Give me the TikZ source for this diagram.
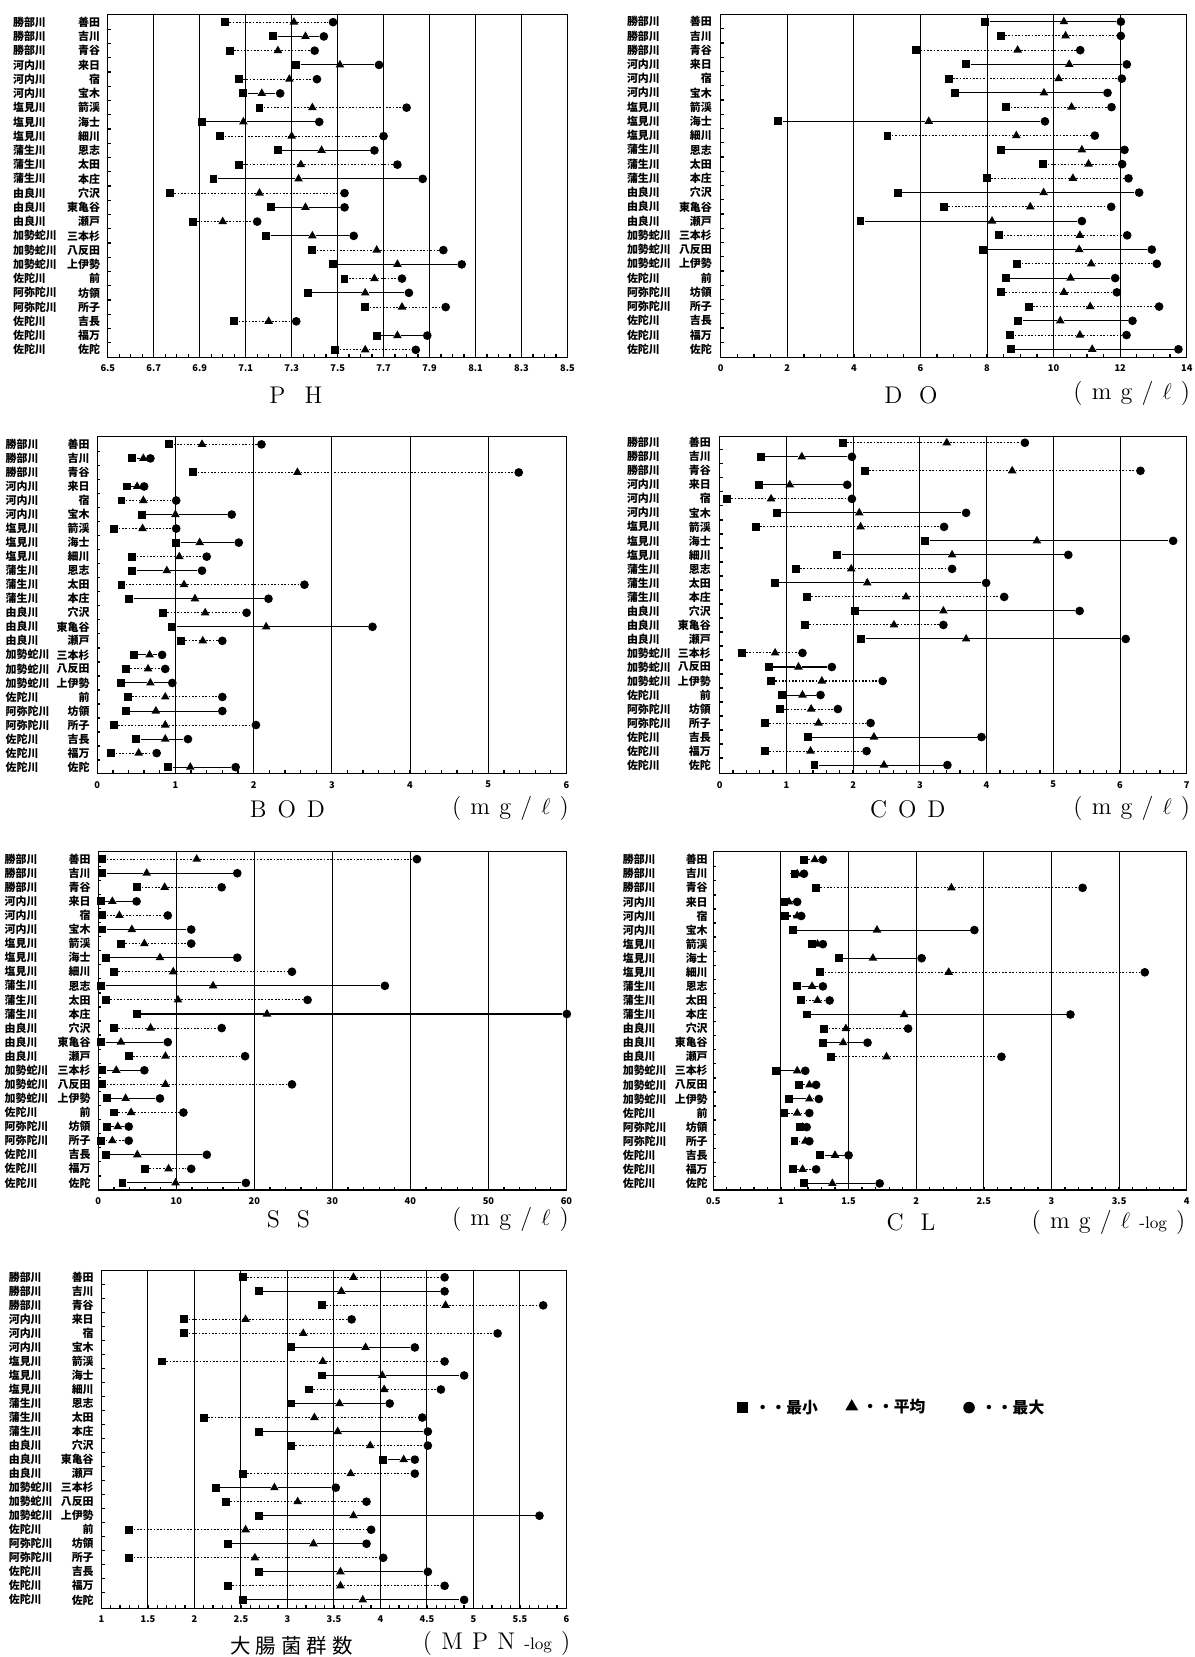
\documentclass[tikz,border=0pt]{standalone}
\usepackage{fontspec}
\newfontfamily\jpfont{Noto Sans CJK JP}
\usetikzlibrary{shapes.geometric,positioning}

\tikzset{
  minmark/.style={rectangle, fill=black, inner sep=0pt, minimum size=0.15cm},
  avgmark/.style={regular polygon, regular polygon sides=3, fill=black, inner sep=0pt, minimum size=0.19cm},
  maxmark/.style={circle, fill=black, inner sep=0pt, minimum size=0.165cm},
  rowline0/.style={line width=0.55pt},
  rowline1/.style={line width=0.55pt, dash pattern=on 0.9pt off 0.9pt},
  gridline/.style={line width=0.5pt},
  frameline/.style={line width=0.7pt},
  riverlabel/.style={anchor=west, inner sep=0pt, font=\jpfont\bfseries\fontsize{5.9}{6}\selectfont},
  stnlabel/.style={anchor=east, inner sep=0pt, font=\jpfont\bfseries\fontsize{5.9}{6}\selectfont},
  ticklabel/.style={inner sep=0pt, font=\jpfont\bfseries\fontsize{5}{6}\selectfont},
  titlelabel/.style={inner sep=0pt, font=\fontsize{13}{15}\selectfont},
  jptitle/.style={inner sep=0pt, font=\jpfont\fontsize{11}{13}\selectfont},
  legtext/.style={inner sep=0pt, font=\jpfont\bfseries\fontsize{8.5}{10}\selectfont},
  legmin/.style={minmark, minimum size=0.21cm},
  legavg/.style={avgmark, minimum size=0.28cm},
  legmax/.style={maxmark, minimum size=0.22cm},
}

% stations, top to bottom
\newcommand{\stationlist}{勝部川/善田,勝部川/吉川,勝部川/青谷,河内川/来日,河内川/宿,河内川/宝木,塩見川/箭渓,塩見川/海士,塩見川/細川,蒲生川/恩志,蒲生川/太田,蒲生川/本庄,由良川/穴沢,由良川/東亀谷,由良川/瀬戸,加勢蛇川/三本杉,加勢蛇川/八反田,加勢蛇川/上伊勢,佐陀川/前,阿弥陀川/坊領,阿弥陀川/所子,佐陀川/吉長,佐陀川/福万,佐陀川/佐陀}
\newcommand{\gapsp}{\hspace{0.38em}}
\newcommand{\unitmg}{(\gapsp m\gapsp g\gapsp /\gapsp $\ell$\gapsp )}

% row labels: #1 river x, #2 station right edge
\newcommand{\stationlabels}[2]{%
  \foreach \rv/\stn [count=\i] in \stationlist {
    \node[riverlabel] (\pname-rv-\i) at (#1,{\ya+(\i-1)*\dy}) {\rv};
    \node[stnlabel] (\pname-st-\i) at (#2,{\ya+(\i-1)*\dy}) {\stn};
  }}

% frame, grid and ticks: #1 left, #2 right, #3 top, #4 bottom, #5 intervals, #6 minor, #7 tick labels
\newcommand{\panelaxes}[7]{%
  \pgfmathsetmacro{\gridgap}{(#2-#1)/#5}
  \foreach \lab [count=\j from 0] in {#7} {
    \draw[gridline] ({#1+\j*\gridgap},#3) -- ({#1+\j*\gridgap},#4);
    \node[ticklabel] (\pname-tick-\j) at ({#1+\j*\gridgap},{#4+10.5}) {\lab};
  }
  \pgfmathtruncatemacro{\nminor}{#5*#6}
  \foreach \m in {1,...,\nminor} \draw[frameline] ({#1+\m*\gridgap/#6},#4) -- ++(0,-3);
  \foreach \r in {1,...,23} \draw[frameline] (#1,{\ya+(\r-0.5)*\dy}) -- ++(3,0);
  \draw[frameline] (#1,#3) rectangle (#2,#4);
}

% min / mean / max for each row
\newcommand{\panelrows}[1]{%
  \foreach \vlo/\vav/\vhi/\lstyle [count=\i] in {#1} {
    \pgfmathsetmacro{\yy}{\ya+(\i-1)*\dy}
    \node[minmark] (\pname-min-\i) at ({\xa+(\vlo-\vmin)*\kx},\yy) {};
    \node[avgmark] (\pname-avg-\i) at ({\xa+(\vav-\vmin)*\kx},\yy) {};
    \node[maxmark] (\pname-max-\i) at ({\xa+(\vhi-\vmin)*\kx},\yy) {};
    \draw[rowline\lstyle] (\pname-min-\i) -- (\pname-avg-\i) -- (\pname-max-\i);
  }}

\begin{document}
\begin{tikzpicture}[x=0.02cm, y=-0.02cm]
  \useasboundingbox (0,0) rectangle (1130,1568);

  % P H
  \def\pname{ph}\def\xa{102}\def\vmin{6.5}\def\kx{217.5}\def\ya{21}\def\dy{13.48}
  \stationlabels{12}{95}
  \panelaxes{102}{537}{14}{338}{10}{4}{6.5,6.7,6.9,7.1,7.3,7.5,7.7,7.9,8.1,8.3,8.5}
  \panelrows{7.01/7.31/7.48/1, 7.22/7.36/7.44/0, 7.03/7.24/7.40/1, 7.32/7.51/7.68/0,
    7.07/7.29/7.41/1, 7.09/7.17/7.25/0, 7.16/7.39/7.80/1, 6.91/7.09/7.42/0,
    6.99/7.30/7.70/1, 7.24/7.43/7.66/0, 7.07/7.34/7.76/1, 6.96/7.33/7.87/0,
    6.77/7.16/7.53/1, 7.21/7.36/7.53/0, 6.87/7.00/7.15/1, 7.19/7.39/7.57/0,
    7.39/7.67/7.96/1, 7.48/7.76/8.04/0, 7.53/7.66/7.78/1, 7.37/7.62/7.81/0,
    7.62/7.78/7.97/1, 7.05/7.20/7.32/1, 7.67/7.76/7.89/0, 7.49/7.62/7.84/1}
  \node[titlelabel] (ph-title) at (280,374) {P\hspace{0.8em}H};

  % D O
  \def\pname{do}\def\xa{682}\def\vmin{0}\def\kx{31.5}\def\ya{20.5}\def\dy{13.48}
  \stationlabels{593}{674}
  \panelaxes{682}{1123}{14}{338}{7}{4}{0,2,4,6,8,10,12,14}
  \panelrows{7.95/10.31/12.02/0, 8.41/10.36/12.02/1, 5.87/8.92/10.80/1, 7.38/10.47/12.20/0,
    6.85/10.15/12.05/1, 7.03/9.71/11.62/0, 8.58/10.54/11.74/1, 1.73/6.25/9.74/0,
    5.01/8.88/11.24/1, 8.42/10.85/12.13/0, 9.69/11.05/12.06/1, 7.99/10.58/12.25/1,
    5.33/9.70/12.57/0, 6.71/9.30/11.73/1, 4.20/8.15/10.85/0, 8.37/10.79/12.21/1,
    7.89/10.77/12.95/0, 8.91/11.13/13.10/1, 8.56/10.51/11.85/0, 8.42/10.31/11.90/1,
    9.25/11.10/13.17/1, 8.94/10.20/12.37/0, 8.70/10.79/12.19/1, 8.72/11.16/13.75/0}
  \node[titlelabel] (do-title) at (862,374) {D\hspace{0.7em}O};
  \node[titlelabel] (do-unit) at (1071,372) {\unitmg};

  % B O D
  \def\pname{bod}\def\xa{92}\def\vmin{0}\def\kx{74}\def\ya{420.5}\def\dy{13.28}
  \stationlabels{5}{85}
  \panelaxes{92}{536}{413}{732}{6}{5}{0,1,2,3,4,5,6}
  \panelrows{0.92/1.34/2.10/1, 0.45/0.59/0.68/0, 1.23/2.56/5.39/1, 0.38/0.51/0.60/0,
    0.31/0.59/1.01/1, 0.57/1.00/1.72/0, 0.22/0.58/1.01/1, 1.01/1.31/1.81/0,
    0.45/1.05/1.40/1, 0.45/0.89/1.34/0, 0.31/1.11/2.65/1, 0.41/1.25/2.19/0,
    0.84/1.38/1.91/1, 0.96/2.16/3.52/0, 1.07/1.35/1.60/1, 0.47/0.67/0.83/0,
    0.37/0.65/0.87/1, 0.30/0.68/0.96/0, 0.39/0.87/1.60/1, 0.37/0.75/1.60/0,
    0.21/0.87/2.03/1, 0.50/0.87/1.16/0, 0.18/0.53/0.76/1, 0.91/1.19/1.77/0}
  \node[titlelabel] (bod-title) at (272,766) {B\hspace{0.45em}O\hspace{0.45em}D};
  \node[titlelabel] (bod-unit) at (483,765) {\unitmg};

  % C O D
  \def\pname{cod}\def\xa{681}\def\vmin{0}\def\kx{63.2}\def\ya{419}\def\dy{13.26}
  \stationlabels{593}{673}
  \panelaxes{681}{1123}{413}{732}{7}{5}{0,1,2,3,4,5,6,7}
  \panelrows{1.84/3.40/4.57/1, 0.62/1.23/1.98/0, 2.17/4.38/6.30/1, 0.59/1.05/1.91/0,
    0.11/0.77/1.98/1, 0.86/2.09/3.69/0, 0.54/2.11/3.36/1, 3.08/4.75/6.79/0,
    1.76/3.48/5.22/0, 1.14/1.97/3.48/1, 0.83/2.21/3.99/0, 1.31/2.79/4.26/1,
    2.02/3.35/5.39/0, 1.28/2.61/3.35/1, 2.12/3.69/6.08/0, 0.33/0.83/1.24/1,
    0.74/1.18/1.68/0, 0.77/1.53/2.44/1, 0.93/1.24/1.51/0, 0.90/1.37/1.77/1,
    0.68/1.48/2.26/1, 1.32/2.31/3.92/0, 0.68/1.36/2.20/1, 1.42/2.46/3.41/0}
  \node[titlelabel] (cod-title) at (859,766) {C\hspace{0.45em}O\hspace{0.45em}D};
  \node[titlelabel] (cod-unit) at (1071,765) {\unitmg};

  % S S
  \def\pname{ss}\def\xa{93}\def\vmin{0}\def\kx{7.39}\def\ya{813}\def\dy{13.32}
  \stationlabels{4}{86}
  \panelaxes{93}{536}{806}{1126}{6}{5}{0,10,20,30,40,50,60}
  \panelrows{0.5/12.6/40.8/1, 0.5/6.2/17.8/0, 5.0/8.5/15.8/1, 0.3/1.8/4.9/0,
    0.5/2.7/8.9/1, 0.5/4.3/11.9/0, 2.9/5.9/11.9/1, 1.0/7.9/17.8/0,
    2.0/9.6/24.8/1, 0.4/14.7/36.7/0, 1.0/10.2/26.8/1, 4.9/21.6/60.0/0,
    2.0/6.7/15.8/1, 0.4/2.9/8.9/0, 3.9/8.6/18.8/1, 0.5/2.3/5.9/0,
    0.5/8.6/24.8/1, 1.1/3.5/7.9/0, 2.0/4.2/10.9/1, 1.1/2.5/3.9/0,
    0.4/1.8/3.9/1, 1.0/5.0/13.9/0, 6.0/9.0/11.9/1, 3.1/9.9/18.9/0}
  \node[titlelabel] (ss-title) at (273,1154) {S\hspace{0.7em}S};
  \node[titlelabel] (ss-unit) at (483,1154) {\unitmg};

  % C L
  \def\pname{cl}\def\xa{675}\def\vmin{0.5}\def\kx{128}\def\ya{813.5}\def\dy{13.32}
  \stationlabels{589}{670}
  \panelaxes{675}{1123}{806}{1126}{7}{5}{0.5,1,1.5,2,2.5,3,3.5,4}
  \panelrows{1.17/1.25/1.31/1, 1.10/1.12/1.17/0, 1.26/2.26/3.23/1, 1.02/1.06/1.12/0,
    1.03/1.12/1.15/1, 1.09/1.71/2.43/0, 1.23/1.27/1.31/1, 1.43/1.68/2.04/0,
    1.29/2.24/3.69/1, 1.12/1.23/1.31/0, 1.15/1.27/1.36/1, 1.19/1.91/3.14/0,
    1.32/1.48/1.94/1, 1.31/1.46/1.64/0, 1.37/1.78/2.63/1, 0.96/1.12/1.18/0,
    1.13/1.21/1.26/1, 1.06/1.21/1.28/0, 1.02/1.12/1.21/1, 1.14/1.16/1.19/0,
    1.10/1.18/1.21/1, 1.29/1.40/1.50/0, 1.09/1.16/1.26/1, 1.17/1.38/1.73/0}
  \node[titlelabel] (cl-title) at (862,1157) {C\hspace{0.7em}L};
  \node[titlelabel] (cl-unit) at (1049,1157) {(\gapsp m\gapsp g\gapsp /\gapsp $\ell$\gapsp{\small -log}\gapsp )};

  % coliform count
  \def\pname{ec}\def\xa{96}\def\vmin{1}\def\kx{88}\def\ya{1208.7}\def\dy{13.27}
  \stationlabels{8}{89}
  \panelaxes{96}{536}{1202}{1522}{10}{5}{1,1.5,2,2.5,3,3.5,4,4.5,5,5.5,6}
  \panelrows{2.52/3.71/4.69/1, 2.69/3.58/4.69/0, 3.37/4.70/5.75/1, 1.89/2.55/3.69/1,
    1.89/3.17/5.26/1, 3.04/3.84/4.37/0, 1.65/3.38/4.69/1, 3.37/4.02/4.90/0,
    3.23/4.04/4.65/1, 3.04/3.56/4.10/0, 2.10/3.29/4.45/1, 2.69/3.54/4.51/0,
    3.04/3.89/4.51/1, 4.03/4.25/4.37/0, 2.52/3.68/4.37/1, 2.23/2.86/3.52/0,
    2.34/3.11/3.85/1, 2.69/3.71/5.71/0, 1.30/2.55/3.90/1, 2.36/3.28/3.85/0,
    1.30/2.65/4.03/1, 2.69/3.57/4.51/0, 2.36/3.57/4.69/1, 2.52/3.81/4.90/0}
  \node[jptitle] (ec-title) at (276,1557) {大\hspace{0.25em}腸\hspace{0.25em}菌\hspace{0.25em}群\hspace{0.25em}数};
  \node[titlelabel] (ec-unit) at (470,1555) {(\gapsp M\gapsp P\gapsp N\gapsp{\small -log}\gapsp )};

  % legend
  \node[legmin] (leg-min) at (703,1332) {};
  \node[legtext, right=3pt of leg-min] (leg-min-text) {・・最小};
  \node[legavg] (leg-avg) at (806,1331) {};
  \node[legtext, right=3pt of leg-avg] (leg-avg-text) {・・平均};
  \node[legmax] (leg-max) at (917,1332) {};
  \node[legtext, right=3pt of leg-max] (leg-max-text) {・・最大};
\end{tikzpicture}
\end{document}
